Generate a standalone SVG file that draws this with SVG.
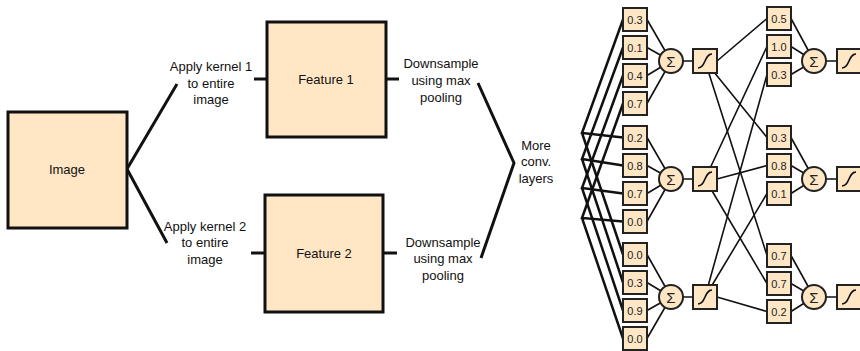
<svg xmlns="http://www.w3.org/2000/svg" width="860" height="351" viewBox="0 0 860 351">
<defs>
<style>
text{font-family:"Liberation Sans",Arial,sans-serif;fill:#111;}
.lbl{font-size:13px;text-anchor:middle;}
.big{fill:#FFE6C4;stroke:#111;stroke-width:3;}
.box{fill:#FFE6C4;stroke:#222;stroke-width:2;}
.num{font-size:11px;text-anchor:middle;fill:#222;}
.sig{font-size:15px;text-anchor:middle;fill:#222;}
.thick{stroke:#111;stroke-width:3;fill:none;}
.mid{stroke:#111;stroke-width:2.5;fill:none;}
.thin{stroke:#111;stroke-width:1.6;fill:none;}
.curve{stroke:#111;stroke-width:1.6;fill:none;}
</style>
<g id="sigbox">
<rect class="box" x="0" y="0" width="24" height="24"/>
<path class="curve" d="M5,19 C13,19 11,5 19,5"/>
</g>
</defs>

<g id="connectors">
<path class="thick" d="M127,169 L177,84 M127,169 L167,243"/>
<path class="thick" d="M254,79 L267,79 M251,253 L265,253"/>
<path class="thick" d="M386,79 L399,79 M383,253 L397,253"/>
<path class="thick" d="M478,83 L514,163 L481,258"/>
<path class="mid" d="M623,19.5 L582,133 L623,137.5 M582,133 L623,254.5"/>
<path class="mid" d="M623,47.5 L582,159 L623,165.5 M582,159 L623,282.5"/>
<path class="mid" d="M623,75.5 L582,188 L623,193.5 M582,188 L623,310.5"/>
<path class="mid" d="M623,103.5 L582,218 L623,221.5 M582,218 L623,338.5"/>
<path class="thin" d="M647,19.5 L671,61 M647,47.5 L671,61 M647,75.5 L671,61 M647,103.5 L671,61"/>
<path class="thin" d="M647,137.5 L671,179 M647,165.5 L671,179 M647,193.5 L671,179 M647,221.5 L671,179"/>
<path class="thin" d="M647,254.5 L671,297 M647,282.5 L671,297 M647,310.5 L671,297 M647,338.5 L671,297"/>
<path class="thin" d="M683,61 L693,61 M683,179 L693,179 M683,297 L693,297"/>
<path class="thin" d="M717,61 L767,18.5 M705,61 L767,137.5 M705,61 L767,255.5"/>
<path class="thin" d="M705,179 L767,46.5 M717,179 L767,165.5 M705,179 L767,283.5"/>
<path class="thin" d="M705,297 L767,74.5 M705,297 L767,193.5 M717,297 L767,311.5"/>
<path class="thin" d="M791,18.5 L814,61 M791,46.5 L814,61 M791,74.5 L814,61"/>
<path class="thin" d="M791,137.5 L814,179 M791,165.5 L814,179 M791,193.5 L814,179"/>
<path class="thin" d="M791,255.5 L814,297 M791,283.5 L814,297 M791,311.5 L814,297"/>
<path class="thin" d="M826,61 L837,61 M826,179 L837,179 M826,297 L837,297"/>
</g>

<g id="image"><rect class="big" x="8" y="112" width="119" height="116"/><text class="lbl" x="67" y="174">Image</text></g>
<g id="feature1"><rect class="big" x="267" y="22" width="119" height="115"/><text class="lbl" x="326" y="84">Feature 1</text></g>
<g id="feature2"><rect class="big" x="265" y="195" width="118" height="117"/><text class="lbl" x="324" y="258">Feature 2</text></g>

<g id="label-kernel1"><text class="lbl" x="211" y="71">Apply kernel 1<tspan x="211" dy="16.5">to entire</tspan><tspan x="211" dy="16.5">image</tspan></text></g>
<g id="label-kernel2"><text class="lbl" x="205" y="230.5">Apply kernel 2<tspan x="205" dy="16.5">to entire</tspan><tspan x="205" dy="16.5">image</tspan></text></g>
<g id="label-pool1"><text class="lbl" x="441" y="68">Downsample<tspan x="441" dy="16.8">using max</tspan><tspan x="441" dy="16.8">pooling</tspan></text></g>
<g id="label-pool2"><text class="lbl" x="443" y="246.5">Downsample<tspan x="443" dy="16.5">using max</tspan><tspan x="443" dy="16.5">pooling</tspan></text></g>
<g id="label-more"><text class="lbl" x="536" y="149.5">More<tspan x="536" dy="16.5">conv.</tspan><tspan x="536" dy="16.5">layers</tspan></text></g>

<g id="inputs">
<g id="in-1-1"><rect class="box" x="623" y="8" width="24" height="23"/><text class="num" x="635" y="23.5">0.3</text></g>
<g id="in-1-2"><rect class="box" x="623" y="36" width="24" height="23"/><text class="num" x="635" y="51.5">0.1</text></g>
<g id="in-1-3"><rect class="box" x="623" y="64" width="24" height="23"/><text class="num" x="635" y="79.5">0.4</text></g>
<g id="in-1-4"><rect class="box" x="623" y="92" width="24" height="23"/><text class="num" x="635" y="107.5">0.7</text></g>
<g id="in-2-1"><rect class="box" x="623" y="126" width="24" height="23"/><text class="num" x="635" y="141.5">0.2</text></g>
<g id="in-2-2"><rect class="box" x="623" y="154" width="24" height="23"/><text class="num" x="635" y="169.5">0.8</text></g>
<g id="in-2-3"><rect class="box" x="623" y="182" width="24" height="23"/><text class="num" x="635" y="197.5">0.7</text></g>
<g id="in-2-4"><rect class="box" x="623" y="210" width="24" height="23"/><text class="num" x="635" y="225.5">0.0</text></g>
<g id="in-3-1"><rect class="box" x="623" y="243" width="24" height="23"/><text class="num" x="635" y="258.5">0.0</text></g>
<g id="in-3-2"><rect class="box" x="623" y="271" width="24" height="23"/><text class="num" x="635" y="286.5">0.3</text></g>
<g id="in-3-3"><rect class="box" x="623" y="299" width="24" height="23"/><text class="num" x="635" y="314.5">0.9</text></g>
<g id="in-3-4"><rect class="box" x="623" y="327" width="24" height="23"/><text class="num" x="635" y="342.5">0.0</text></g>
</g>

<g id="sum1-1"><circle class="box" cx="671" cy="61" r="12"/><text class="sig" x="671" y="66.5">Σ</text></g>
<g id="sum1-2"><circle class="box" cx="671" cy="179" r="12"/><text class="sig" x="671" y="184.5">Σ</text></g>
<g id="sum1-3"><circle class="box" cx="671" cy="297" r="12"/><text class="sig" x="671" y="302.5">Σ</text></g>
<g id="act1-1"><use href="#sigbox" x="693" y="49"/></g>
<g id="act1-2"><use href="#sigbox" x="693" y="167"/></g>
<g id="act1-3"><use href="#sigbox" x="693" y="285"/></g>

<g id="weights2">
<g id="w-1-1"><rect class="box" x="767" y="7" width="24" height="23"/><text class="num" x="779" y="22.5">0.5</text></g>
<g id="w-1-2"><rect class="box" x="767" y="35" width="24" height="23"/><text class="num" x="779" y="50.5">1.0</text></g>
<g id="w-1-3"><rect class="box" x="767" y="63" width="24" height="23"/><text class="num" x="779" y="78.5">0.3</text></g>
<g id="w-2-1"><rect class="box" x="767" y="126" width="24" height="23"/><text class="num" x="779" y="141.5">0.3</text></g>
<g id="w-2-2"><rect class="box" x="767" y="154" width="24" height="23"/><text class="num" x="779" y="169.5">0.8</text></g>
<g id="w-2-3"><rect class="box" x="767" y="182" width="24" height="23"/><text class="num" x="779" y="197.5">0.1</text></g>
<g id="w-3-1"><rect class="box" x="767" y="244" width="24" height="23"/><text class="num" x="779" y="259.5">0.7</text></g>
<g id="w-3-2"><rect class="box" x="767" y="272" width="24" height="23"/><text class="num" x="779" y="287.5">0.7</text></g>
<g id="w-3-3"><rect class="box" x="767" y="300" width="24" height="23"/><text class="num" x="779" y="315.5">0.2</text></g>
</g>

<g id="sum2-1"><circle class="box" cx="814" cy="61" r="12"/><text class="sig" x="814" y="66.5">Σ</text></g>
<g id="sum2-2"><circle class="box" cx="814" cy="179" r="12"/><text class="sig" x="814" y="184.5">Σ</text></g>
<g id="sum2-3"><circle class="box" cx="814" cy="297" r="12"/><text class="sig" x="814" y="302.5">Σ</text></g>
<g id="act2-1"><use href="#sigbox" x="837" y="49"/></g>
<g id="act2-2"><use href="#sigbox" x="837" y="167"/></g>
<g id="act2-3"><use href="#sigbox" x="837" y="285"/></g>
</svg>
